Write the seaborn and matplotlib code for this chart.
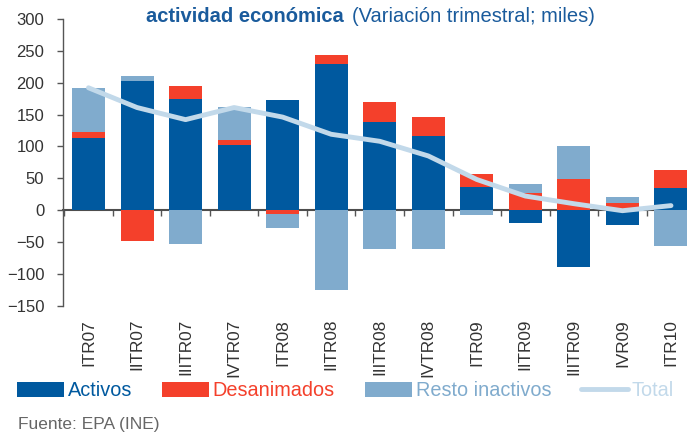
import numpy as np
import pandas as pd
import matplotlib
matplotlib.use("Agg")
import matplotlib.pyplot as plt
from matplotlib.patches import Patch
from matplotlib.lines import Line2D
import seaborn as sns

# ---- data (miles) ----
quarters = ["ITR07", "IITR07", "IIITR07", "IVTR07", "ITR08", "IITR08", "IIITR08",
            "IVTR08", "ITR09", "IITR09", "IIITR09", "IVR09", "ITR10"]
activos = [113, 203, 175, 102, 173, 230, 138, 117, 36, -21, -90, -23, 34]
desanimados = [9, -49, 20, 8, -6, 14, 32, 29, 21, 27, 48, 11, 29]
resto = [70, 8, -53, 52, -22, -126, -61, -61, -8, 14, 52, 10, -56]
total = [192, 161, 142, 161, 146, 119, 108, 85, 48, 22, 10, -1, 7]

series_names = ["Activos", "Desanimados", "Resto inactivos"]
series_vals = [activos, desanimados, resto]
colors = {"Activos": "#00599f", "Desanimados": "#f4402b",
          "Resto inactivos": "#80abcd", "Total": "#c2d9ea"}

sns.set_theme(style="white")
plt.rcParams["font.family"] = ["Liberation Sans", "DejaVu Sans"]

fig = plt.figure(figsize=(6.87, 4.32), dpi=100)
ax = fig.add_axes([63 / 687, 1 - 305.6 / 432, 1 - 63 / 687, (305.6 - 19) / 432])

n = len(quarters)
pos_base = np.zeros(n)
neg_base = np.zeros(n)
for name, vals in zip(series_names, series_vals):
    v = np.array(vals, dtype=float)
    bottom = np.where(v >= 0, pos_base, neg_base)
    df = pd.DataFrame({"q": quarters, "v": v})
    sns.barplot(data=df, x="q", y="v", order=quarters, color=colors[name],
                width=0.68, saturation=1, bottom=bottom, ax=ax,
                linewidth=0, errorbar=None)
    pos_base = np.where(v >= 0, pos_base + v, pos_base)
    neg_base = np.where(v < 0, neg_base + v, neg_base)

sns.lineplot(x=np.arange(n), y=total, color=colors["Total"], linewidth=3.5,
             ax=ax, zorder=5)

ax.set_xlim(-0.525, 12.33)
ax.set_ylim(-150, 300)
ax.set_yticks(np.arange(-150, 301, 50))
ax.set_xlabel("")
ax.set_ylabel("")
for s in ["top", "right", "bottom"]:
    ax.spines[s].set_visible(False)
ax.spines["left"].set_color("#555555")
ax.spines["left"].set_linewidth(1)
ax.tick_params(axis="y", left=True, direction="out", length=4, width=1,
               color="#555555", pad=9.5, labelsize=12, labelcolor="#333333")
ax.set_xticks(np.arange(n))
ax.set_xticklabels(quarters, rotation=90, fontsize=12.4, color="#333333")
ax.tick_params(axis="x", bottom=False, length=0, pad=9.5)

# zero line with boundary ticks
sec = ax.secondary_xaxis(150 / 450)
sec.spines["bottom"].set_color("#4d4d4d")
sec.spines["bottom"].set_linewidth(1.5)
sec.set_xticks(np.arange(-0.5, n, 1.0))
sec.set_xticklabels([])
sec.tick_params(axis="x", direction="out", length=4, width=1, color="#555555")

# title
fig.text(146 / 687, 1 - 17 / 432, "actividad económica", fontsize=14.5,
         fontweight="bold", color="#1a5b9c", ha="left", va="center")
fig.text(352 / 687, 1 - 17 / 432, "(Variación trimestral; miles)", fontsize=14.5,
         color="#1a5b9c", ha="left", va="center")

# legend
handles = [Patch(facecolor=colors[k], edgecolor="none") for k in series_names]
handles.append(Line2D([0], [0], color=colors["Total"], lw=3.5))
labels = series_names + ["Total"]
fig.legend(handles, labels, loc="center left", bbox_to_anchor=(17 / 687, 1 - 391 / 432),
           ncol=4, frameon=False, fontsize=14.3, handlelength=2.36, handleheight=0.75,
           handletextpad=0.2, columnspacing=1.5, borderpad=0, borderaxespad=0,
           labelcolor=[colors[k] for k in labels])

fig.text(18 / 687, 1 - 424 / 432, "Fuente: EPA (INE)", fontsize=12.5, color="#666666",
         ha="left", va="center")

fig.savefig("out.png", dpi=100)
